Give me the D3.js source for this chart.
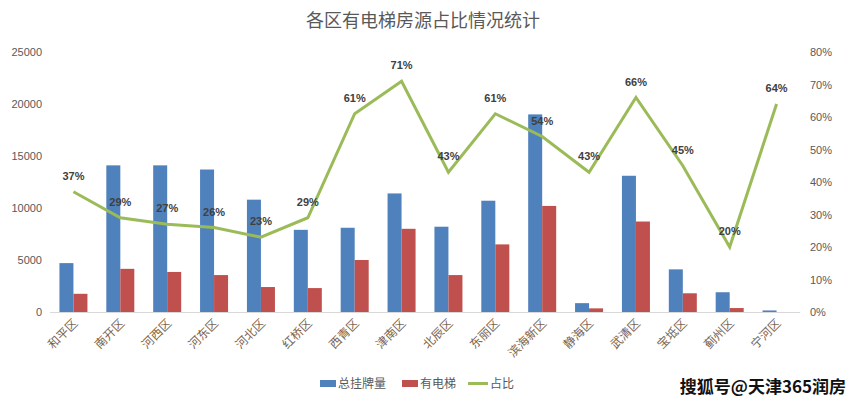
<!DOCTYPE html>
<html><head><meta charset="utf-8">
<script src="https://cdn.jsdelivr.net/npm/d3@7"></script>
<style>body{margin:0;background:#fff}svg{font-family:"Noto Sans CJK SC",sans-serif}</style>
</head><body><svg id="c" width="847" height="406"></svg>
<script>
// values
var districts = ["和平区","南开区","河西区","河东区","河北区","红桥区","西青区","津南区","北辰区","东丽区","滨海新区","静海区","武清区","宝坻区","蓟州区","宁河区"];
var totalListed = [4700,14100,14100,13700,10800,7900,8100,11400,8200,10700,19000,850,13100,4100,1900,150];
var withElevator = [1750,4150,3850,3550,2400,2300,5000,8000,3550,6500,10200,350,8700,1800,380,0];
var ratio = [37,29,27,26,23,29,61,71,43,61,54,43,66,45,20,64];
var leftTicks = [0,5000,10000,15000,20000,25000];
var rightTicks = [0,10,20,30,40,50,60,70,80];

var svg = d3.select("#c");
var plotTop = 52, plotBottom = 312;
var x = d3.scaleBand().domain(districts).range([50, 800]);
var y = d3.scaleLinear().domain([0,25000]).range([plotBottom, plotTop]);
var y2 = d3.scaleLinear().domain([0,80]).range([plotBottom, plotTop]);
var blue = "#4f81bd", red = "#c0504d", green = "#9bbb59", txt = "#595959";

svg.append("text").attr("x", 423).attr("y", 27).attr("text-anchor","middle")
  .attr("font-size", 18).attr("fill", txt).text("各区有电梯房源占比情况统计");

var la = svg.append("g").attr("transform","translate(46,0)")
  .call(d3.axisLeft(y).tickValues(leftTicks).tickFormat(d3.format("d")).tickSize(0).tickPadding(4));
la.select(".domain").remove();
la.selectAll("text").attr("font-size", 11).attr("fill", txt).attr("font-family","Liberation Sans");

var ra = svg.append("g").attr("transform","translate(806,0)")
  .call(d3.axisRight(y2).tickValues(rightTicks).tickFormat(function(d){return d+"%";}).tickSize(0).tickPadding(4));
ra.select(".domain").remove();
ra.selectAll("text").attr("font-size", 11).attr("fill", txt).attr("font-family","Liberation Sans");

svg.append("line").attr("x1",50).attr("x2",800).attr("y1",plotBottom+0.5).attr("y2",plotBottom+0.5)
  .attr("stroke","#d9d9d9");

var bw = 14;
svg.selectAll("rect.t").data(districts).enter().append("rect")
  .attr("x", function(d){return x(d)+x.bandwidth()/2-bw;})
  .attr("y", function(d,i){return y(totalListed[i]);})
  .attr("width", bw).attr("height", function(d,i){return plotBottom-y(totalListed[i]);})
  .attr("fill", blue);
svg.selectAll("rect.e").data(districts).enter().append("rect")
  .attr("x", function(d){return x(d)+x.bandwidth()/2;})
  .attr("y", function(d,i){return y(withElevator[i]);})
  .attr("width", bw).attr("height", function(d,i){return plotBottom-y(withElevator[i]);})
  .attr("fill", red);

var line = d3.line().x(function(d,i){return x(districts[i])+x.bandwidth()/2;}).y(function(d){return y2(d);});
svg.append("path").datum(ratio).attr("d", line).attr("fill","none").attr("stroke", green).attr("stroke-width", 3);

svg.selectAll("text.p").data(ratio).enter().append("text")
  .attr("x", function(d,i){return x(districts[i])+x.bandwidth()/2;})
  .attr("y", function(d){return y2(d)-12;})
  .attr("text-anchor","middle").attr("font-size", 11).attr("font-weight","bold")
  .attr("font-family","Liberation Sans").attr("fill","#404040")
  .text(function(d){return d+"%";});

svg.selectAll("text.c").data(districts).enter().append("text")
  .attr("transform", function(d){return "translate("+(x(d)+x.bandwidth()/2+5)+","+(plotBottom+12)+") rotate(-45)";})
  .attr("text-anchor","end").attr("font-size", 12).attr("fill", "#7a6350").text(function(d){return d;});

var legend = [["总挂牌量", blue, "rect"], ["有电梯", red, "rect"], ["占比", green, "line"]];
var lx = [320, 402, 468];
legend.forEach(function(l, i){
  var g = svg.append("g").attr("transform","translate("+lx[i]+",385)");
  if (l[2] === "rect") g.append("rect").attr("x",0).attr("y",-5).attr("width",16).attr("height",7).attr("fill", l[1]);
  else g.append("line").attr("x1",0).attr("x2",20).attr("y1",-1.5).attr("y2",-1.5).attr("stroke", l[1]).attr("stroke-width",3);
  g.append("text").attr("x", l[2]==="rect"?18:22).attr("y",3).attr("font-size",12).attr("fill",txt).text(l[0]);
});

svg.append("text").attr("x", 846).attr("y", 393).attr("text-anchor","end")
  .attr("font-size", 17).attr("font-weight","bold").attr("fill","#111")
  .attr("stroke","#fff").attr("stroke-width",2).attr("paint-order","stroke")
  .text("搜狐号@天津365润房");
</script></body></html>
